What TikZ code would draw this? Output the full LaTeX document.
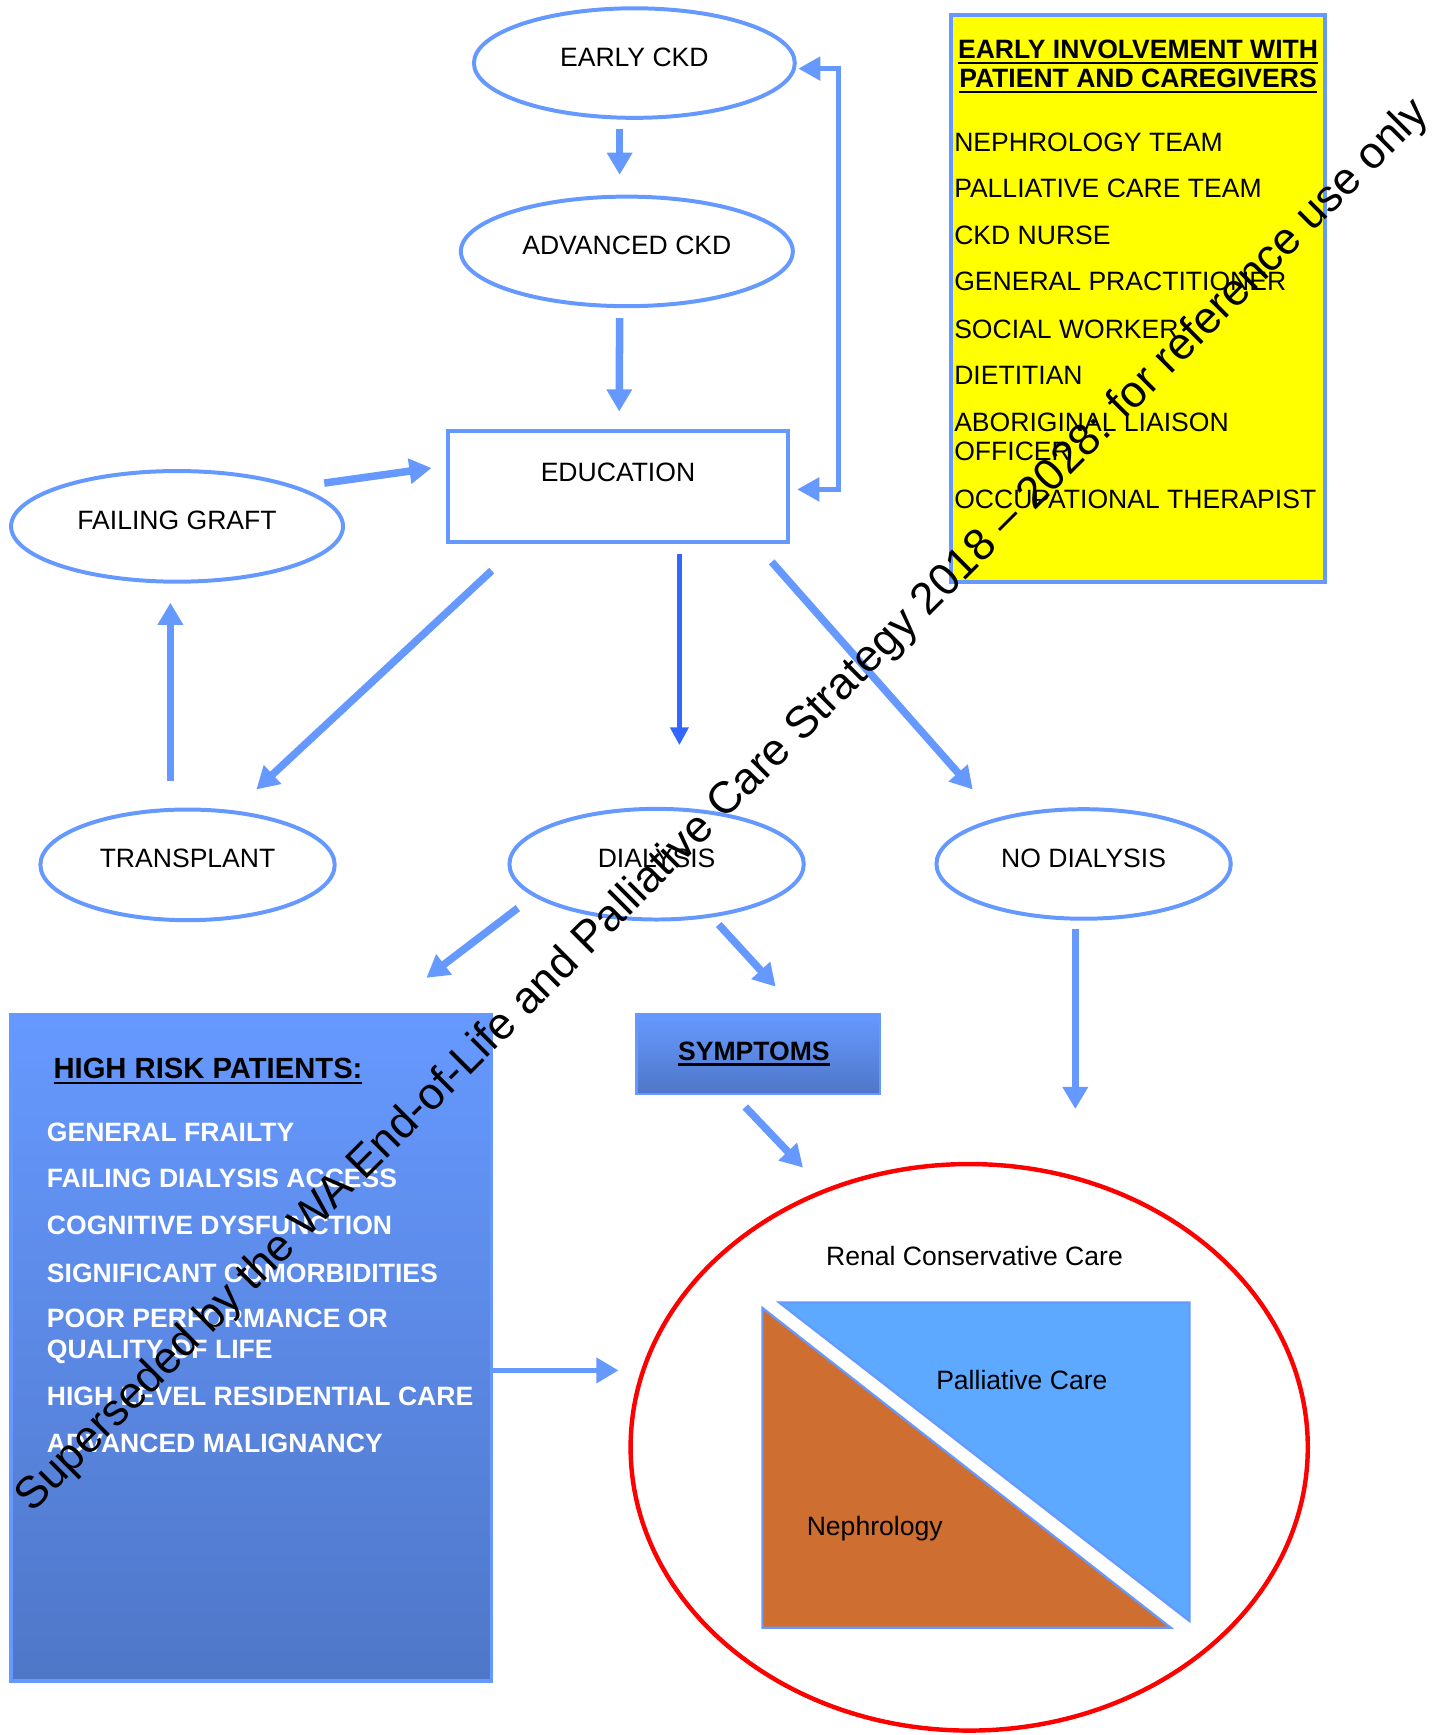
\documentclass[tikz,border=0pt]{standalone}
\usepackage{fontspec}
\setmainfont{Liberation Sans}
\usetikzlibrary{shapes.geometric,arrows.meta,calc}
\definecolor{lb}{HTML}{6699FF}
\definecolor{db}{HTML}{3366FF}
\definecolor{hrpbot}{HTML}{4F77C8}
\definecolor{palblue}{HTML}{5CA9FF}
\definecolor{nephor}{HTML}{CF6E31}
\definecolor{ylw}{HTML}{FFFF00}
\definecolor{rred}{HTML}{FF0000}
\newcommand\myul[1]{\setbox0=\hbox{#1}\rlap{\rule[-2.6pt]{\wd0}{1.1pt}}\box0}
\begin{document}
\begin{tikzpicture}[x=0.5pt,y=-0.5pt,
  ell/.style={ellipse,draw=lb,line width=1.8pt,inner sep=0pt,outer sep=0pt,
    font=\fontsize{12}{14}\selectfont,text height=8.6pt,text depth=5.8pt},
  recbox/.style={rectangle,draw=lb,line width=1.8pt,inner sep=0pt,outer sep=0pt},
  arr/.style={draw=lb,line width=3.4pt,-{Triangle[width=11pt,length=10pt]}},
  thinarr/.style={draw=db,line width=2.2pt,-{Triangle[width=8pt,length=8pt]}},
  looparr/.style={draw=lb,line width=2.2pt,{Triangle[width=10.5pt,length=10pt]}-{Triangle[width=10.5pt,length=10pt]}},
  lbl/.style={anchor=base,inner sep=0pt,font=\fontsize{12}{14}\selectfont},
  lblw/.style={anchor=base west,inner sep=0pt,font=\fontsize{12}{14}\selectfont},
  hrpitem/.style={anchor=base west,inner sep=0pt,text=white,font=\fontsize{12}{14}\selectfont\bfseries},
]
\useasboundingbox (0,0) rectangle (1309,1568);

% ---------- shapes ----------
\node[ell,minimum width=145pt,minimum height=49.5pt] (early) at (573.3,57) {EARLY CKD};
\node[ell,minimum width=150pt,minimum height=49.5pt] (adv) at (566.5,227.2) {ADVANCED CKD};
\node[recbox,minimum width=154pt,minimum height=50pt,font=\fontsize{12}{14}\selectfont,
      text height=8.6pt,text depth=13pt] (edu) at (558.5,439.9) {EDUCATION};
\node[ell,minimum width=150pt,minimum height=50pt] (fg) at (160,475.7) {FAILING GRAFT};
\node[ell,minimum width=133pt,minimum height=50pt] (tr) at (169.5,781.6) {TRANSPLANT};
\node[ell,minimum width=133pt,minimum height=50pt] (dia) at (593.4,781) {DIALYSIS};
\node[ell,minimum width=133pt,minimum height=49.5pt] (nod) at (979.3,780.8) {NO DIALYSIS};

% yellow team box
\node[recbox,fill=ylw,minimum width=169pt,minimum height=256pt] (team) at (1028.8,269.9) {};
\node[lbl,font=\fontsize{12}{14}\selectfont\bfseries] (tt1) at (1028.5,52.6) {\myul{EARLY INVOLVEMENT WITH}};
\node[lbl,font=\fontsize{12}{14}\selectfont\bfseries] (tt2) at (1028.5,79.2) {\myul{PATIENT AND CAREGIVERS}};
\foreach \txt/\yy [count=\i] in {NEPHROLOGY TEAM/136.6, PALLIATIVE CARE TEAM/178.6,
   CKD NURSE/220.6, GENERAL PRACTITIONER/262.6, SOCIAL WORKER/305.6, DIETITIAN/347.6,
   ABORIGINAL LIAISON/389.6, OFFICER/416.6, OCCUPATIONAL THERAPIST/459.6}
  \node[lblw] (ti\i) at (862,\yy) {\txt};

% high risk patients box
\node[recbox,line width=1.6pt,top color=lb,bottom color=hrpbot,minimum width=217pt,minimum height=301pt] (hrp) at (227,1218) {};
\node[anchor=base west,inner sep=0pt,font=\fontsize{13.2}{15}\selectfont\bfseries] (hrpt) at (48,974.4) {\myul{HIGH RISK PATIENTS:}};
\foreach \txt/\yy [count=\i] in {GENERAL FRAILTY/1031.6, FAILING DIALYSIS ACCESS/1073.6,
   COGNITIVE DYSFUNCTION/1115.6, SIGNIFICANT COMORBIDITIES/1158.6,
   POOR PERFORMANCE OR/1199.6, QUALITY OF LIFE/1227.6,
   HIGH LEVEL RESIDENTIAL CARE/1270.6, ADVANCED MALIGNANCY/1312.6}
  \node[hrpitem] (hi\i) at (42,\yy) {\txt};

% symptoms box
\node[recbox,line width=1.1pt,top color=lb,bottom color=hrpbot,minimum width=110pt,minimum height=36pt] (sym) at (685.4,952.5) {};
\node[lbl,font=\fontsize{12}{14}\selectfont\bfseries] (symt) at (681.3,958) {\myul{SYMPTOMS}};

% renal conservative care
\node[ellipse,draw=rred,line width=2pt,inner sep=0pt,outer sep=0pt,minimum width=306pt,minimum height=256pt] (rcc) at (875.9,1308) {};
\draw[fill=palblue,draw=lb,line width=1pt] (704,1177) -- (1075,1177) -- (1075,1465) -- cycle;
\draw[fill=nephor,draw=lb,line width=1pt] (689,1182) -- (689,1471) -- (1058,1471) -- cycle;
\node[lbl] (rcct) at (880.7,1143.8) {Renal Conservative Care};
\node[lbl] (palt) at (923.5,1255.5) {Palliative Care};
\node[lbl] (nept) at (790.5,1387.4) {Nephrology};

% ---------- connectors ----------
\draw[arr] ($(early.center)+(-13.3,60)$) -- ($(adv.center)+(-6.5,-69.2)$);
\draw[arr] ($(adv.center)+(-6.5,60.2)$) -- ($(edu.center)+(1.1,-68)$);
\draw[looparr] ($(edu.center)+(162,2.4)$) -- ++(37,0) |- ($(early.center)+(148.2,5)$);
\draw[arr] ($(fg.center)+(133,-39.1)$) -- ($(edu.center)+(-168.5,-16.9)$);
\draw[arr] ($(edu.center)+(-114.1,75.8)$) -- ($(tr.center)+(62.2,-68.1)$);
\draw[arr] ($(tr.center)+(-15.5,-75.6)$) -- ($(fg.center)+(-6,69)$);
\draw[thinarr] ($(edu.center)+(55.5,60.9)$) -- ($(dia.center)+(20.6,-107.6)$);
\draw[arr] ($(edu.center)+(138.9,67.9)$) -- ($(nod.center)+(-100.2,-67.3)$);
\draw[arr] ($(dia.center)+(-125.4,39.7)$) -- ($(hrp.center)+(158.4,-334.3)$);
\draw[arr] ($(dia.center)+(56.1,54.5)$) -- ($(sym.center)+(15.6,-60.8)$);
\draw[arr] ($(sym.center)+(-11.9,47.9)$) -- ($(rcc.center)+(-150.2,-252.8)$);
\draw[arr] ($(nod.center)+(-7.5,59.2)$) -- ($(rcc.center)+(95.9,-305.7)$);
\draw[arr,line width=2.6pt] ($(hrp.center)+(218,20.5)$) -- ($(rcc.center)+(-316.9,-69.5)$);

% ---------- watermark ----------
\node[anchor=base,rotate=45,inner sep=0pt,font=\fontsize{20.2}{24}\selectfont] (wm) at (661,736)
  {Superseded by the WA End-of-Life and Palliative Care Strategy 2018 – 2028: for reference use only};
\end{tikzpicture}
\end{document}
